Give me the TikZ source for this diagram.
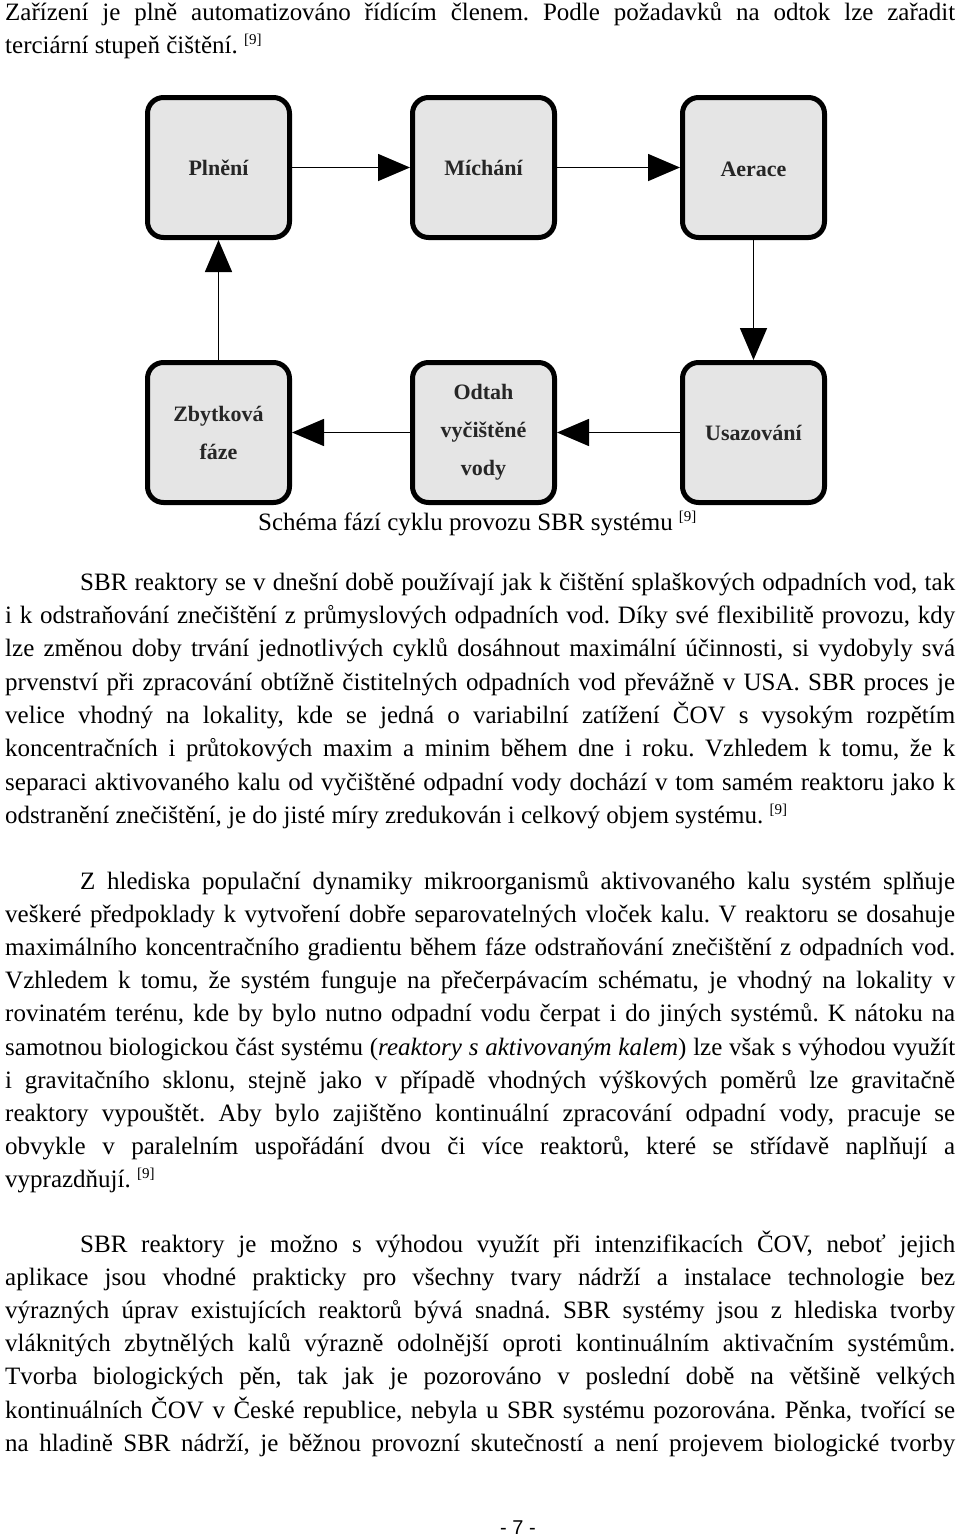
\documentclass[tikz,border=0pt]{standalone}
\usepackage{fontspec}
\setmainfont{Liberation Serif}
\newfontfamily\pagefont{Liberation Sans}
\usetikzlibrary{positioning}
\usetikzlibrary{arrows.meta}
\frenchspacing

\newcommand{\cit}{\raisebox{9pt}{\fontsize{15}{15}\selectfont [9]}}
\newcommand{\fullln}[1]{\makebox[950pt][s]{#1}}
\newcommand{\indln}[1]{\makebox[875pt][s]{#1}}

\begin{document}
\begin{tikzpicture}[x=1pt,y=-1pt,
    phase/.style={draw,line width=5pt,rounded corners=16pt,fill=black!10,minimum width=142pt,minimum height=140pt,align=center,text=black!85,font=\fontsize{22}{38}\selectfont\bfseries},
    flow/.style={line width=1.6pt,-{Triangle[length=32pt,width=27pt]}},
    txt/.style={anchor=base west,inner sep=0pt,font=\fontsize{25}{33}\selectfont}]
    \path[use as bounding box,fill=white] (0,0) rectangle (960,1537);

    \node[txt] (t1) at (5,20) {\fullln{Zařízení je plně automatizováno řídícím členem. Podle požadavků na odtok lze zařadit}};
    \node[txt] (t2) at (5,53) {terciární stupeň čištění. \cit};

    \node[phase] (plneni) at (218.5,167.5) {Plnění};
    \node[phase] (michani) [right=118pt of plneni] {Míchání};
    \node[phase] (aerace) [right=123pt of michani] {\vphantom{Í}Aerace};
    \node[phase] (usaz) [below=120pt of aerace] {Usazování};
    \node[phase] (odtah) [below=120pt of michani] {Odtah\\vyčištěné\\vody};
    \node[phase] (zbytek) [below=120pt of plneni] {Zbytková\\fáze};
    \draw[flow] (plneni) -- (michani);
    \draw[flow] (michani) -- (aerace);
    \draw[flow] (aerace) -- (usaz);
    \draw[flow] (usaz) -- (odtah);
    \draw[flow] (odtah) -- (zbytek);
    \draw[flow] (zbytek) -- (plneni);

    \node[txt] (cap) at (258,530) {Schéma fází cyklu provozu SBR systému \cit};

    % prvni odstavec
    \node[txt] (a1) at (80,590) {\indln{SBR reaktory se v dnešní době používají jak k čištění splaškových odpadních vod, tak}};
    \node[txt] (a2) at (5,623.3) {\fullln{i k odstraňování znečištění z průmyslových odpadních vod. Díky své flexibilitě provozu, kdy}};
    \node[txt] (a3) at (5,656.6) {\fullln{lze změnou doby trvání jednotlivých cyklů dosáhnout maximální účinnosti, si vydobyly svá}};
    \node[txt] (a4) at (5,690) {\fullln{prvenství při zpracování obtížně čistitelných odpadních vod převážně v USA. SBR proces je}};
    \node[txt] (a5) at (5,723.3) {\fullln{velice vhodný na lokality, kde se jedná o variabilní zatížení ČOV s vysokým rozpětím}};
    \node[txt] (a6) at (5,756.6) {\fullln{koncentračních i průtokových maxim a minim během dne i roku. Vzhledem k tomu, že k}};
    \node[txt] (a7) at (5,790) {\fullln{separaci aktivovaného kalu od vyčištěné odpadní vody dochází v tom samém reaktoru jako k}};
    \node[txt] (a8) at (5,823.3) {odstranění znečištění, je do jisté míry zredukován i celkový objem systému. \cit};

    % druhy odstavec
    \node[txt] (b1) at (80,889) {\indln{Z hlediska populační dynamiky mikroorganismů aktivovaného kalu systém splňuje}};
    \node[txt] (b2) at (5,922.2) {\fullln{veškeré předpoklady k vytvoření dobře separovatelných vloček kalu. V reaktoru se dosahuje}};
    \node[txt] (b3) at (5,955.4) {\fullln{maximálního koncentračního gradientu během fáze odstraňování znečištění z odpadních vod.}};
    \node[txt] (b4) at (5,988.6) {\fullln{Vzhledem k tomu, že systém funguje na přečerpávacím schématu, je vhodný na lokality v}};
    \node[txt] (b5) at (5,1021.8) {\fullln{rovinatém terénu, kde by bylo nutno odpadní vodu čerpat i do jiných systémů. K nátoku na}};
    \node[txt] (b6) at (5,1055) {\fullln{samotnou biologickou část systému (\textit{reaktory s aktivovaným kalem}) lze však s výhodou využít}};
    \node[txt] (b7) at (5,1088.2) {\fullln{i gravitačního sklonu, stejně jako v případě vhodných výškových poměrů lze gravitačně}};
    \node[txt] (b8) at (5,1121.4) {\fullln{reaktory vypouštět. Aby bylo zajištěno kontinuální zpracování odpadní vody, pracuje se}};
    \node[txt] (b9) at (5,1154.6) {\fullln{obvykle v paralelním uspořádání dvou či více reaktorů, které se střídavě naplňují a}};
    \node[txt] (b10) at (5,1187.8) {vyprazdňují. \cit};

    % treti odstavec
    \node[txt] (c1) at (80,1252) {\indln{SBR reaktory je možno s výhodou využít při intenzifikacích ČOV, neboť jejich}};
    \node[txt] (c2) at (5,1285.2) {\fullln{aplikace jsou vhodné prakticky pro všechny tvary nádrží a instalace technologie bez}};
    \node[txt] (c3) at (5,1318.4) {\fullln{výrazných úprav existujících reaktorů bývá snadná. SBR systémy jsou z hlediska tvorby}};
    \node[txt] (c4) at (5,1351.6) {\fullln{vláknitých zbytnělých kalů výrazně odolnější oproti kontinuálním aktivačním systémům.}};
    \node[txt] (c5) at (5,1384.8) {\fullln{Tvorba biologických pěn, tak jak je pozorováno v poslední době na většině velkých}};
    \node[txt] (c6) at (5,1418) {\fullln{kontinuálních ČOV v České republice, nebyla u SBR systému pozorována. Pěnka, tvořící se}};
    \node[txt] (c7) at (5,1451.2) {\fullln{na hladině SBR nádrží, je běžnou provozní skutečností a není projevem biologické tvorby}};

    \node[anchor=base,inner sep=0pt,font=\pagefont\fontsize{20}{20}\selectfont] (pg) at (518,1534) {- 7 -};
\end{tikzpicture}
\end{document}
